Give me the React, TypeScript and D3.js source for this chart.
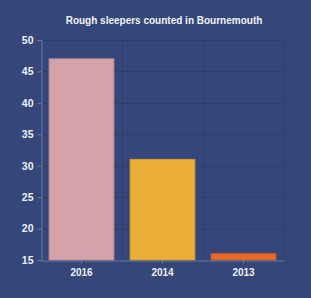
import { useEffect, useRef } from 'react';
import * as d3 from 'd3';

const years = ['2016', '2014', '2013'];
const sleepers = [47, 31, 16];
const barColors = ['#d4a3a9', '#ebae37', '#e8692a'];
const barStrokes = ['#b98c93', '#cf9a30', '#cc5c25'];
const yTicks = [15, 20, 25, 30, 35, 40, 45, 50];

export default function App() {
  const svgRef = useRef<SVGSVGElement>(null);

  useEffect(() => {
    if (!svgRef.current) return;
    const width = 311;
    const height = 298;
    const margin = { top: 40, right: 27, bottom: 38, left: 41 };

    const svg = d3.select(svgRef.current);
    svg.selectAll('*').remove();

    svg.append('rect')
      .attr('width', width)
      .attr('height', height)
      .attr('fill', '#35477a');

    const x = d3.scaleBand<string>()
      .domain(years)
      .range([margin.left, width - margin.right])
      .paddingInner(0.2)
      .paddingOuter(0.1);

    const y = d3.scaleLinear()
      .domain([15, 50])
      .range([height - margin.bottom, margin.top]);

    // grid
    const grid = svg.append('g').attr('stroke', '#2e3f6c').attr('stroke-width', 1);
    yTicks.forEach(t => {
      grid.append('line')
        .attr('x1', margin.left).attr('x2', width - margin.right)
        .attr('y1', Math.round(y(t)) + 0.5).attr('y2', Math.round(y(t)) + 0.5);
    });
    const step = x.step();
    const bounds = years.map((_, i) => margin.left + i * step).concat([width - margin.right]);
    bounds.slice(1).forEach(b => {
      grid.append('line')
        .attr('x1', Math.round(b) + 0.5).attr('x2', Math.round(b) + 0.5)
        .attr('y1', margin.top).attr('y2', height - margin.bottom);
    });

    // bars
    svg.append('g')
      .selectAll('rect')
      .data(sleepers)
      .enter()
      .append('rect')
      .attr('x', (_, i) => x(years[i])!)
      .attr('width', x.bandwidth())
      .attr('y', d => y(d))
      .attr('height', d => y(15) - y(d))
      .attr('fill', (_, i) => barColors[i])
      .attr('stroke', (_, i) => barStrokes[i])
      .attr('stroke-width', 1);

    const font = '"Liberation Sans", Arial, sans-serif';

    // y axis
    const yAxis = svg.append('g')
      .attr('transform', `translate(${margin.left + 0.5},0)`)
      .call(d3.axisLeft(y).tickValues(yTicks).tickSize(4).tickPadding(4));
    yAxis.select('.domain').attr('stroke', '#6c7aa0');
    yAxis.selectAll('.tick line').attr('stroke', '#6c7aa0');
    yAxis.selectAll('.tick text')
      .attr('fill', '#eef0f6')
      .style('font-family', font)
      .style('font-size', '10.5px')
      .style('font-weight', 'bold');

    // x axis
    const xAxis = svg.append('g')
      .attr('transform', `translate(0,${height - margin.bottom + 0.5})`)
      .call(d3.axisBottom(x).tickSize(3).tickSizeOuter(0).tickPadding(5));
    xAxis.select('.domain').attr('stroke', '#6c7aa0');
    xAxis.selectAll('.tick line').attr('stroke', '#6c7aa0');
    xAxis.selectAll('.tick text')
      .attr('fill', '#eef0f6')
      .style('font-family', font)
      .style('font-size', '10px')
      .style('font-weight', 'bold');

    // title
    svg.append('text')
      .attr('x', 164)
      .attr('y', 24)
      .attr('text-anchor', 'middle')
      .attr('fill', '#f2f3f8')
      .style('font-family', font)
      .style('font-size', '10px')
      .style('font-weight', 'bold')
      .text('Rough sleepers counted in Bournemouth');
  }, []);

  return (
    <svg ref={svgRef} width={311} height={298}
      style={{ position: 'absolute', left: 0, top: 0, display: 'block' }} />
  );
}
